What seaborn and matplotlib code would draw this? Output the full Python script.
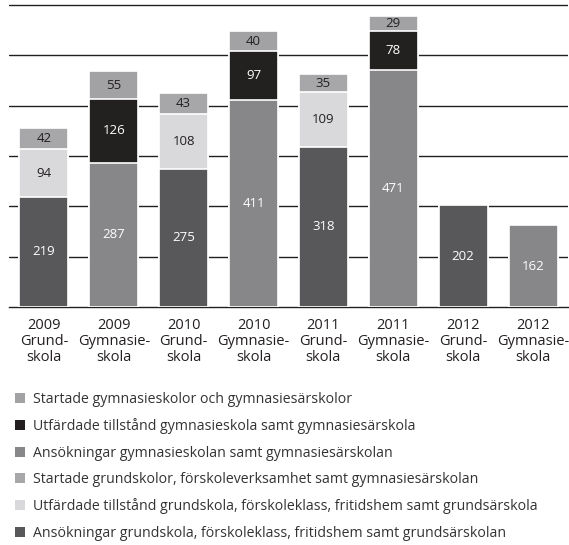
import pandas as pd
import matplotlib
matplotlib.use("Agg")
import matplotlib.pyplot as plt
from matplotlib.patches import Patch
import seaborn as sns

# Data
categories = ["2009\nGrund-\nskola", "2009\nGymnasie-\nskola",
              "2010\nGrund-\nskola", "2010\nGymnasie-\nskola",
              "2011\nGrund-\nskola", "2011\nGymnasie-\nskola",
              "2012\nGrund-\nskola", "2012\nGymnasie-\nskola"]
school = ["grund", "gymn", "grund", "gymn", "grund", "gymn", "grund", "gymn"]
ansokningar = [219, 287, 275, 411, 318, 471, 202, 162]
utfardade = [94, 126, 108, 97, 109, 78, 0, 0]
startade = [42, 55, 43, 40, 35, 29, 0, 0]

legend_labels = [
    "Startade gymnasieskolor och gymnasiesärskolor",
    "Utfärdade tillstånd gymnasieskola samt gymnasiesärskola",
    "Ansökningar gymnasieskolan samt gymnasiesärskolan",
    "Startade grundskolor, förskoleverksamhet samt gymnasiesärskolan",
    "Utfärdade tillstånd grundskola, förskoleklass, fritidshem samt grundsärskola",
    "Ansökningar grundskola, förskoleklass, fritidshem samt grundsärskolan",
]

colors = {
    ("startade", "gymn"): "#a2a2a4",
    ("utfardade", "gymn"): "#231f20",
    ("ansokningar", "gymn"): "#87878a",
    ("startade", "grund"): "#a7a7a9",
    ("utfardade", "grund"): "#d9d9db",
    ("ansokningar", "grund"): "#58585b",
}
text_colors = {
    ("startade", "gymn"): "#231f20",
    ("utfardade", "gymn"): "white",
    ("ansokningar", "gymn"): "white",
    ("startade", "grund"): "#231f20",
    ("utfardade", "grund"): "#231f20",
    ("ansokningar", "grund"): "white",
}

df = pd.DataFrame({"cat": categories, "school": school,
                   "ansokningar": ansokningar, "utfardade": utfardade,
                   "startade": startade})
df["lvl1"] = df["ansokningar"]
df["lvl2"] = df["lvl1"] + df["utfardade"]
df["lvl3"] = df["lvl2"] + df["startade"]

sns.set_style("white")
plt.rcParams["font.family"] = ["Open Sans", "DejaVu Sans"]

fig = plt.figure(figsize=(5.69, 5.45), dpi=100)
ax = fig.add_axes([9 / 569, 1 - 307 / 545, 559 / 569, 307 / 545])

# stacked bars: draw cumulative totals from the top layer down
layers = [("startade", "lvl3"), ("utfardade", "lvl2"), ("ansokningar", "lvl1")]
for name, col in layers:
    pal = {"grund": colors[(name, "grund")], "gymn": colors[(name, "gymn")]}
    sns.barplot(data=df, x="cat", y=col, hue="school", palette=pal,
                order=categories, dodge=False, width=0.7, legend=False,
                edgecolor="white", linewidth=1.2, ax=ax, zorder=3)

# value labels
for i, row in df.iterrows():
    base = 0
    for name in ["ansokningar", "utfardade", "startade"]:
        v = row[name]
        if v > 0:
            ax.text(i, base + v / 2, str(v), ha="center", va="center",
                    fontsize=9.5, color=text_colors[(name, row["school"])],
                    zorder=5)
        base += v

ax.set_ylim(0, 610)
ax.set_xlim(-0.5, 7.5)
ax.set_yticks([100, 200, 300, 400, 500, 600])
ax.yaxis.grid(True, color="#231f20", linewidth=1)
ax.set_axisbelow(True)
ax.tick_params(axis="y", left=False, labelleft=False)
ax.set_xticks(range(8))
ax.set_xticklabels(categories, fontsize=10.5, color="#231f20", linespacing=1.1)
ax.set_xticks([i + 0.5 for i in range(7)], minor=True)
ax.tick_params(axis="x", which="major", length=0, pad=8)
ax.tick_params(axis="x", which="minor", length=5, width=1, color="#231f20",
               direction="out")
ax.set_xlabel("")
ax.set_ylabel("")
for s in ["top", "left", "right"]:
    ax.spines[s].set_visible(False)
ax.spines["bottom"].set_color("#231f20")
ax.spines["bottom"].set_linewidth(1)

legend_keys = [("startade", "gymn"), ("utfardade", "gymn"), ("ansokningar", "gymn"),
               ("startade", "grund"), ("utfardade", "grund"), ("ansokningar", "grund")]
handles = [Patch(facecolor=colors[k], edgecolor="none", label=l)
           for k, l in zip(legend_keys, legend_labels)]
leg = fig.legend(handles=handles, loc="upper left",
                 bbox_to_anchor=(15 / 569, 1 - 392 / 545), frameon=False,
                 fontsize=10.2, handlelength=0.7, handleheight=0.7,
                 handletextpad=0.56, labelspacing=0.8, borderpad=0,
                 borderaxespad=0)
for t in leg.get_texts():
    t.set_color("#333333")

fig.savefig("out.png", dpi=100)
